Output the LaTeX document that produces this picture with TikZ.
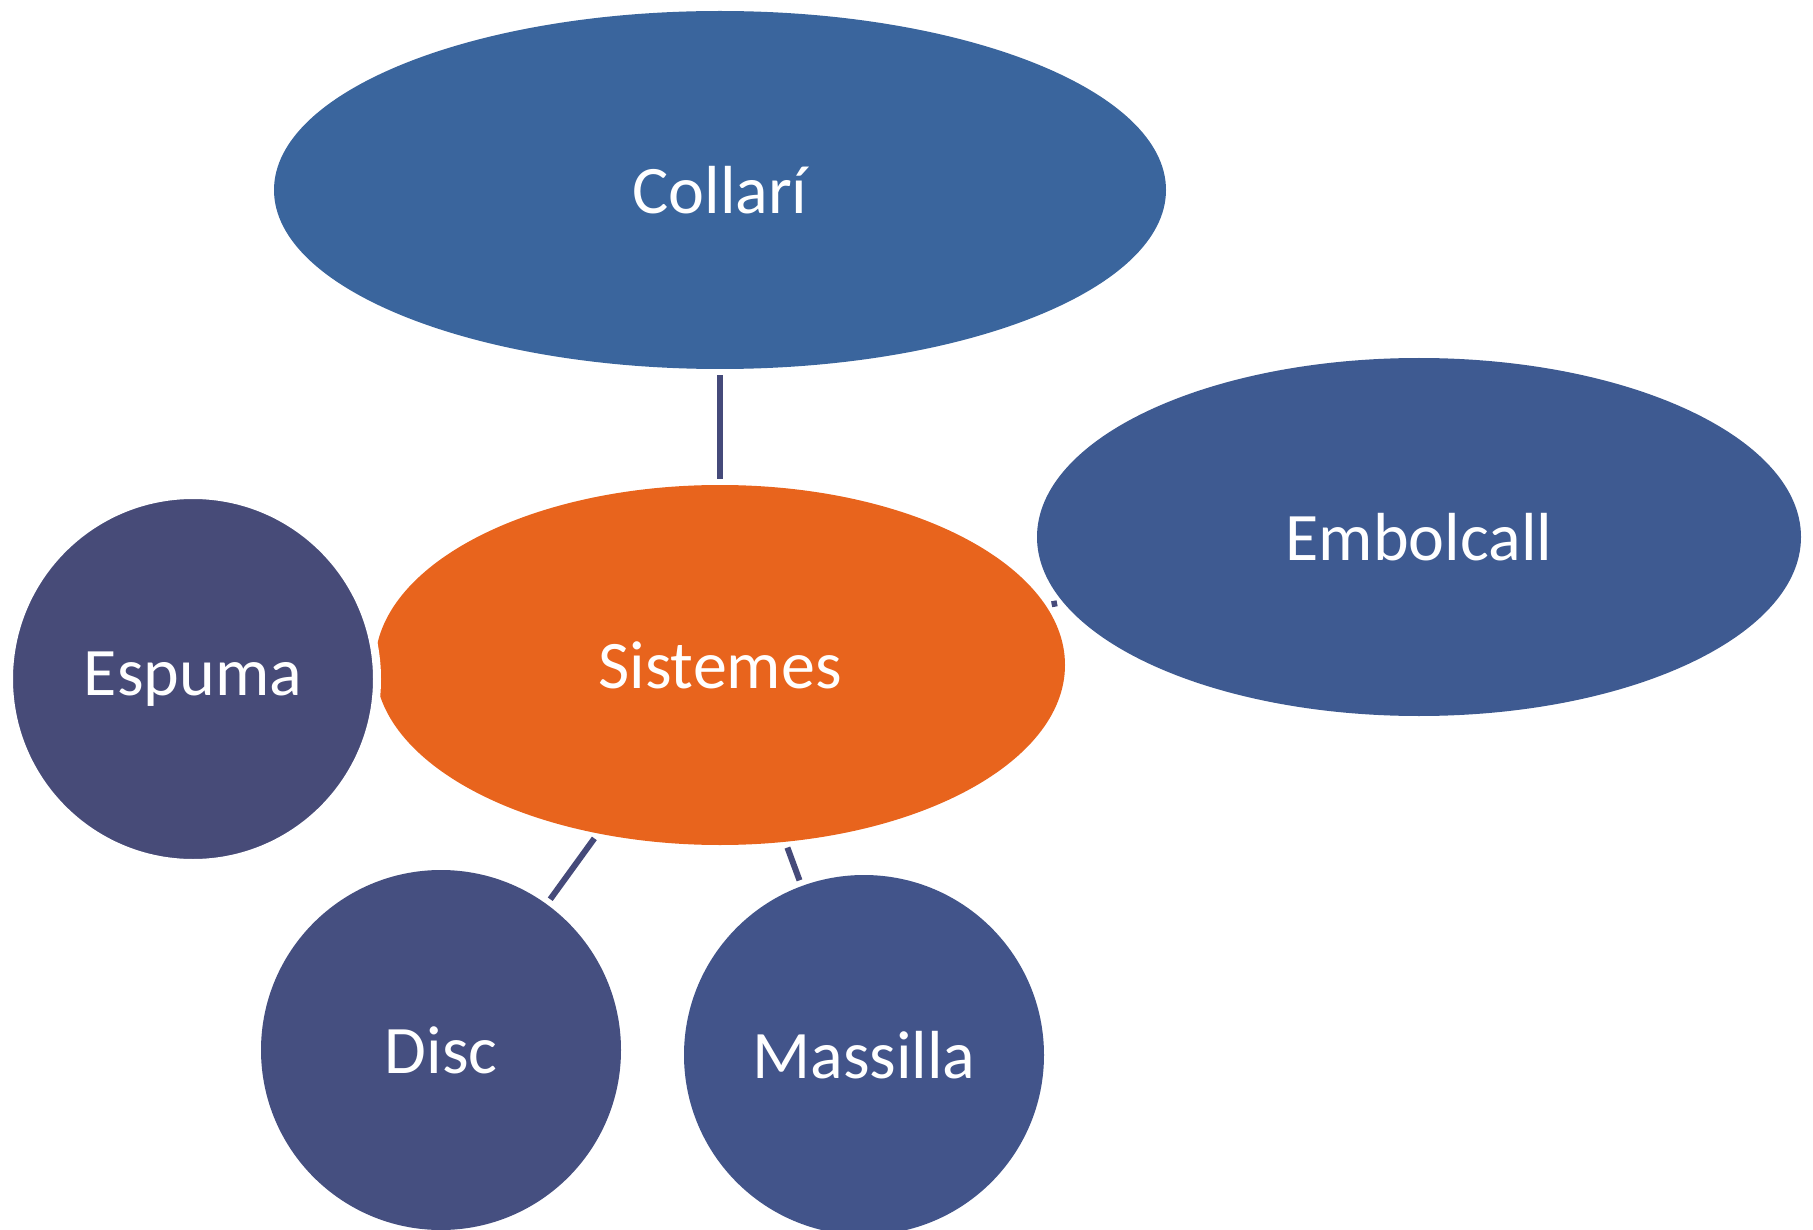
\documentclass[tikz,border=0pt]{standalone}
\usepackage{fontspec}
\setmainfont{Carlito}
\usetikzlibrary{shapes.geometric}
\definecolor{cCol}{RGB}{58,101,157}
\definecolor{cEmb}{RGB}{62,90,145}
\definecolor{cEsp}{RGB}{71,75,120}
\definecolor{cDis}{RGB}{69,79,128}
\definecolor{cMas}{RGB}{66,84,138}
\definecolor{cSis}{RGB}{232,100,29}
\definecolor{cLine}{RGB}{69,74,122}
\tikzset{
  blob/.style={ellipse, inner sep=0pt, text=white, font=\fontsize{68}{80}\selectfont},
  circ/.style={circle, inner sep=0pt, minimum size=360pt, text=white, font=\fontsize{68}{80}\selectfont},
  conn/.style={draw=cLine, line width=6pt, shorten >=6pt, shorten <=6pt}
}
\begin{document}
\begin{tikzpicture}[x=1pt,y=-1pt]
\useasboundingbox (0,0) rectangle (1813,1230);
\begin{scope}
\clip (0,0) rectangle (1813,1230);
\node[blob, fill=cCol, minimum width=892pt, minimum height=358pt] (col) at (720,190) {Collarí};
\node[blob, fill=cEmb, minimum width=764pt, minimum height=358pt] (emb) at (1419,537) {Embolcall};
\node[blob, fill=cSis, minimum width=690pt, minimum height=360pt] (sis) at (720,665) {Sistemes};
\node[circ, fill=cEsp, draw=white, line width=8pt, minimum size=368pt] (esp) at (193,679) {Espuma};
\node[circ, fill=cDis] (dis) at (441,1050) {Disc};
\node[circ, fill=cMas] (mas) at (864,1055) {Massilla};
\draw[conn] (col) -- (sis);
\draw[conn] (sis) -- (dis);
\draw[conn] (sis) -- (mas);
\draw[conn] (sis) -- (emb);
\end{scope}
\end{tikzpicture}
\end{document}
